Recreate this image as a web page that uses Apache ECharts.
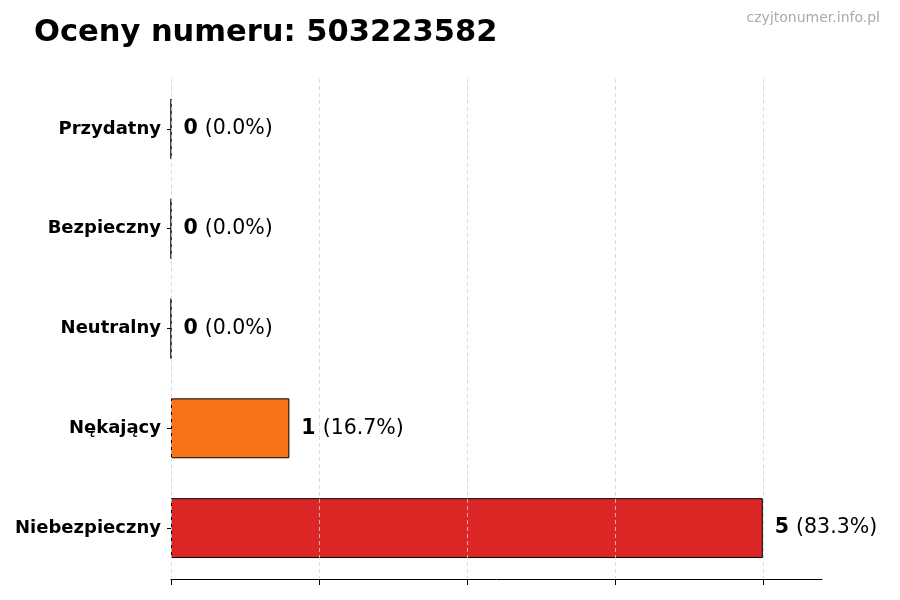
<!DOCTYPE html>
<html><head><meta charset="utf-8">
<script src="https://cdn.jsdelivr.net/npm/echarts@6/dist/echarts.min.js"></script>
<style>html,body{margin:0;padding:0;background:#fff}#c{width:900px;height:600px}</style>
</head><body><div id="c"></div>
<script>
const categories = ['Niebezpieczny', 'Nękający', 'Neutralny', 'Bezpieczny', 'Przydatny'];
const values = [5, 1, 0, 0, 0];
const percents = ['83.3%', '16.7%', '0.0%', '0.0%', '0.0%'];
const colors = ['#dc2626', '#f97316', '#9ca3af', '#22c55e', '#3b82f6'];
const xTicks = [0, 1.25, 2.5, 3.75, 5];

const chart = echarts.init(document.getElementById('c'));
const font = 'DejaVu Sans';
chart.setOption({
  animation: false,
  backgroundColor: '#fff',
  title: [
    { text: 'Oceny numeru: 503223582', left: 29, top: 13,
      textStyle: { fontFamily: font, fontWeight: 'bold', fontSize: 30.5, color: '#000' } },
    { text: 'czyjtonumer.info.pl', right: 15, top: 6,
      textStyle: { fontFamily: font, fontWeight: 'normal', fontSize: 14, color: '#aaa' } }
  ],
  grid: { left: 171, right: 78, top: 79, bottom: 22, containLabel: false },
  xAxis: {
    type: 'value', min: 0, max: 5.5, interval: 1.25, z: 5, offset: 1,
    axisLine: { show: true, lineStyle: { color: '#000', width: 1 } },
    axisTick: { show: true, length: 6, lineStyle: { color: '#000' },
      customValues: xTicks },
    axisLabel: { show: false },
    splitLine: { show: true, lineStyle: { color: '#d0d0d0', type: [4, 3], width: 0.8 } }
  },
  yAxis: {
    type: 'category', data: categories,
    axisLine: { show: false },
    axisTick: { show: true, alignWithLabel: true, length: 4, lineStyle: { color: '#000' } },
    axisLabel: { fontFamily: font, fontWeight: 'bold', fontSize: 18, color: '#000', margin: 10 },
    splitLine: { show: false }
  },
  series: [{
    type: 'bar',
    data: values.map((v, i) => ({ value: v, itemStyle: { color: colors[i] } })),
    barWidth: '60%',
    itemStyle: { borderColor: '#000', borderWidth: 1 },
    label: {
      show: true, position: 'right', distance: 12,
      formatter: p => '{b|' + values[p.dataIndex] + '}{n|(' + percents[p.dataIndex] + ')}',
      rich: {
        b: { fontFamily: font, fontWeight: 'bold', fontSize: 20.5, color: '#000', padding: [0, 7, 0, 0] },
        n: { fontFamily: font, fontSize: 20.5, color: '#000' }
      }
    }
  }]
});
</script></body></html>
